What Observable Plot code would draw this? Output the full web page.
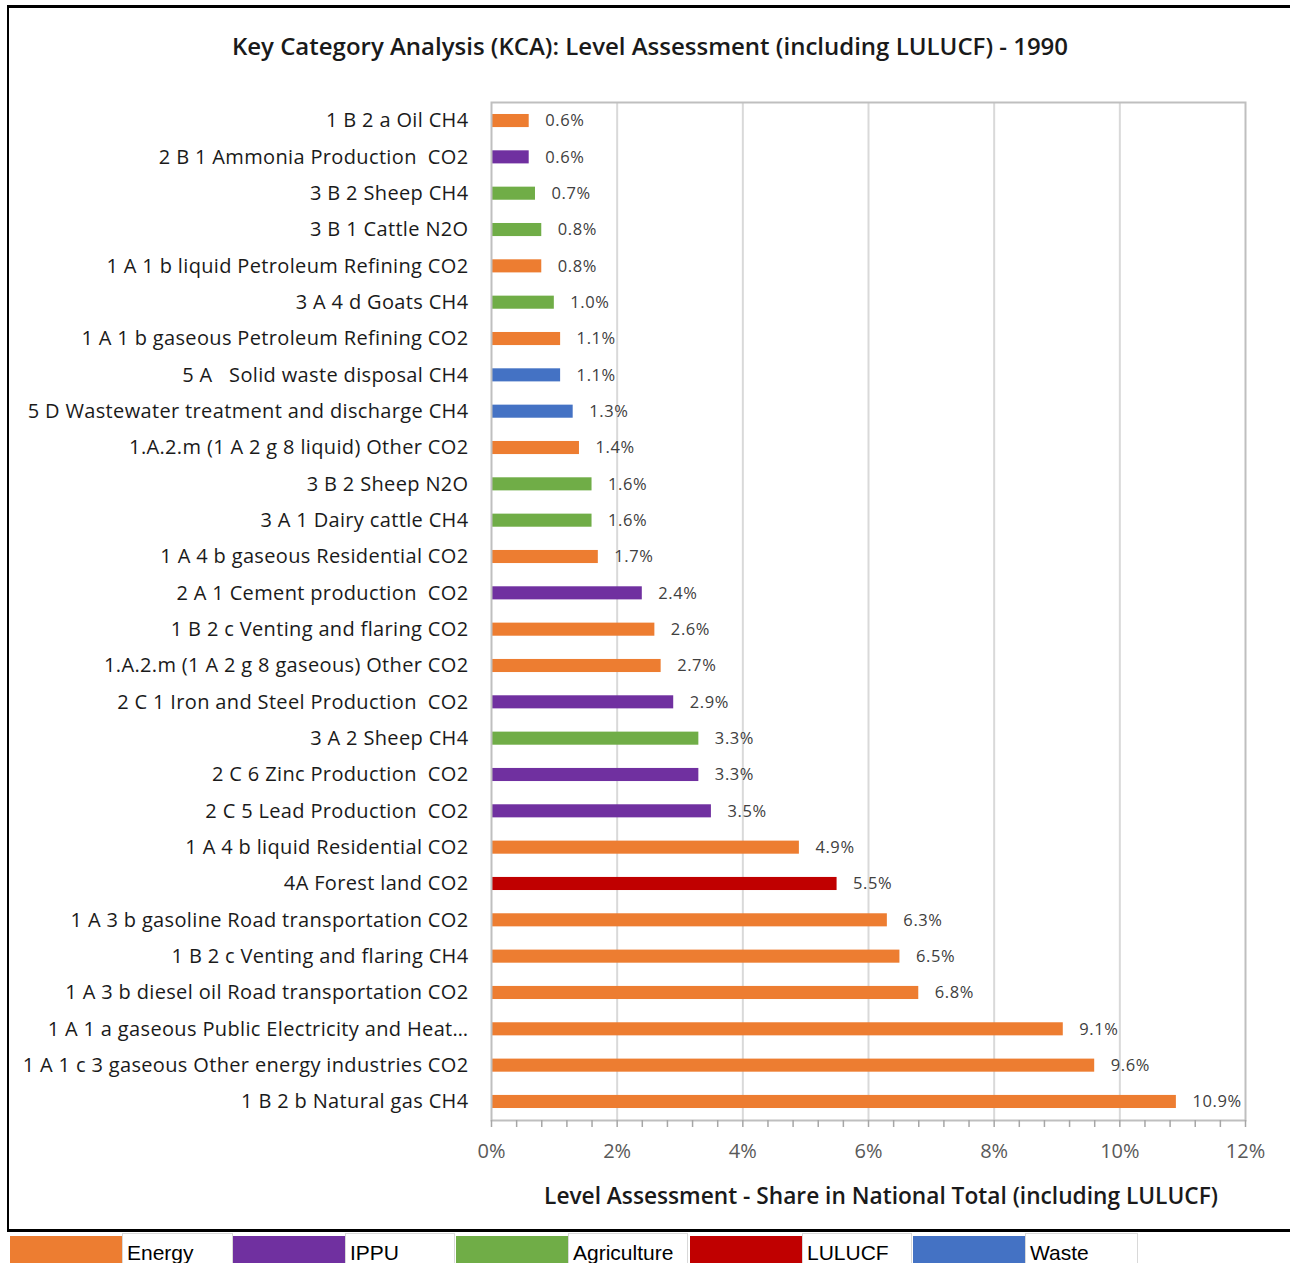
<!DOCTYPE html>
<html><head><meta charset="utf-8">
<script src="https://cdn.jsdelivr.net/npm/d3@7"></script>
<script src="https://cdn.jsdelivr.net/npm/@observablehq/plot@0.6"></script>
<style>
body{margin:0;background:#fff;}
#wrap{position:relative;width:1290px;height:1263px;overflow:hidden;font-family:"Open Sans",sans-serif;background:#fff;}
#chart{position:absolute;left:0;top:0;}
#chart svg text{white-space:pre;}
.hl{position:absolute;background:#000;}
#title{position:absolute;left:0;width:1290px;top:29px;text-align:center;font-size:24px;font-weight:600;color:#1a1a1a;padding-left:10px;box-sizing:border-box;}
#xtitle{position:absolute;left:491px;width:780px;top:1180px;text-align:center;font-size:22.7px;font-weight:600;color:#1a1a1a;}
#legend{position:absolute;left:0;top:1233px;height:40px;}
.sw{position:absolute;top:3px;height:40px;}
.cell{position:absolute;top:0;height:40px;border:1.5px solid #d9d9d9;box-sizing:border-box;font-family:"Liberation Sans",Arial,sans-serif;font-size:21px;color:#000;padding-left:4px;padding-top:7px;letter-spacing:0px;}
</style></head><body>
<div id="wrap">
  <div class="hl" style="left:7px;top:5px;width:2px;height:1226px;"></div>
  <div class="hl" style="left:7px;top:5px;width:1283px;height:2.5px;"></div>
  <div class="hl" style="left:7px;top:1229px;width:1283px;height:2.5px;"></div>
  <div id="title">Key Category Analysis (KCA): Level Assessment (including LULUCF) - 1990</div>
  <div id="chart"></div>
  <div id="xtitle">Level Assessment - Share in National Total (including LULUCF)</div>
  <div id="legend"></div>
</div>
<script>
const categories = [
  "1 B 2 a Oil CH4",
  "2 B 1 Ammonia Production  CO2",
  "3 B 2 Sheep CH4",
  "3 B 1 Cattle N2O",
  "1 A 1 b liquid Petroleum Refining CO2",
  "3 A 4 d Goats CH4",
  "1 A 1 b gaseous Petroleum Refining CO2",
  "5 A   Solid waste disposal CH4",
  "5 D Wastewater treatment and discharge CH4",
  "1.A.2.m (1 A 2 g 8 liquid) Other CO2",
  "3 B 2 Sheep N2O",
  "3 A 1 Dairy cattle CH4",
  "1 A 4 b gaseous Residential CO2",
  "2 A 1 Cement production  CO2",
  "1 B 2 c Venting and flaring CO2",
  "1.A.2.m (1 A 2 g 8 gaseous) Other CO2",
  "2 C 1 Iron and Steel Production  CO2",
  "3 A 2 Sheep CH4",
  "2 C 6 Zinc Production  CO2",
  "2 C 5 Lead Production  CO2",
  "1 A 4 b liquid Residential CO2",
  "4A Forest land CO2",
  "1 A 3 b gasoline Road transportation CO2",
  "1 B 2 c Venting and flaring CH4",
  "1 A 3 b diesel oil Road transportation CO2",
  "1 A 1 a gaseous Public Electricity and Heat…",
  "1 A 1 c 3 gaseous Other energy industries CO2",
  "1 B 2 b Natural gas CH4"
];
const sectors = [
  "Energy","IPPU","Agriculture","Agriculture","Energy","Agriculture","Energy","Waste",
  "Waste","Energy","Agriculture","Agriculture","Energy","IPPU","Energy","Energy",
  "IPPU","Agriculture","IPPU","IPPU","Energy","LULUCF","Energy","Energy",
  "Energy","Energy","Energy","Energy"
];
const values = [
  0.6,0.6,0.7,0.8,0.8,1.0,1.1,1.1,1.3,1.4,1.6,1.6,1.7,2.4,2.6,2.7,
  2.9,3.3,3.3,3.5,4.9,5.5,6.3,6.5,6.8,9.1,9.6,10.9
];
const sectorNames = ["Energy","IPPU","Agriculture","LULUCF","Waste"];
const sectorColors = ["#ED7D31","#7030A0","#70AD47","#C00000","#4472C4"];
const majorTicks = [0,2,4,6,8,10,12];
const minorTicks = d3.range(0,31).map(i => i*0.4);

const data = categories.map((c,i)=>({category:c, sector:sectors[i], value:values[i]}));

const chart = Plot.plot({
  width:1290, height:1170,
  marginLeft:491, marginRight:45, marginTop:102, marginBottom:50,
  style:{fontFamily:"'Open Sans', sans-serif", background:"transparent", overflow:"visible"},
  x:{domain:[0,12]},
  y:{domain:categories, paddingInner:0.64, paddingOuter:0.33, round:false},
  color:{domain:sectorNames, range:sectorColors},
  marks:[
    Plot.gridX(majorTicks.slice(1,-1), {stroke:"#d9d9d9", strokeOpacity:1, strokeWidth:2}),
    Plot.barX(data,{y:"category", x:"value", fill:"sector"}),
    Plot.text(data,{y:"category", x:"value", text:d=>d.value.toFixed(1)+"%", textAnchor:"start", dx:16, fontSize:16.5, fill:"#404040"}),
    Plot.frame({stroke:"#bfbfbf", strokeWidth:2}),
    Plot.axisX({ticks:minorTicks, tickSize:7, tickFormat:()=>"", stroke:"#a6a6a6", strokeWidth:1.5, label:null}),
    Plot.axisX({ticks:majorTicks, tickSize:0, tickPadding:23, tickFormat:d=>d+"%", fontSize:20, fill:"#595959", label:null}),
    Plot.axisY({tickSize:0, tickPadding:23, fontSize:20, fill:"#1a1a1a", label:null})
  ]
});
document.getElementById("chart").appendChild(chart);
d3.select(chart).selectAll("g[aria-label='y-axis tick label'] text").style("letter-spacing","0.35px");
d3.select(chart).selectAll("g[aria-label='text'] text").style("letter-spacing","0.6px");

const legend = document.getElementById("legend");
const swLeft = [10,233,456,690,913];
const cellW = [111,110,120,110,113];
sectorNames.forEach((s,i)=>{
  const sw = document.createElement("div");
  sw.className="sw"; sw.style.left=swLeft[i]+"px"; sw.style.width="112px"; sw.style.background=sectorColors[i];
  legend.appendChild(sw);
  const cell = document.createElement("div");
  cell.className="cell"; cell.style.left=(swLeft[i]+112)+"px"; cell.style.width=cellW[i]+"px";
  cell.textContent=s;
  legend.appendChild(cell);
});
</script>
</body></html>
